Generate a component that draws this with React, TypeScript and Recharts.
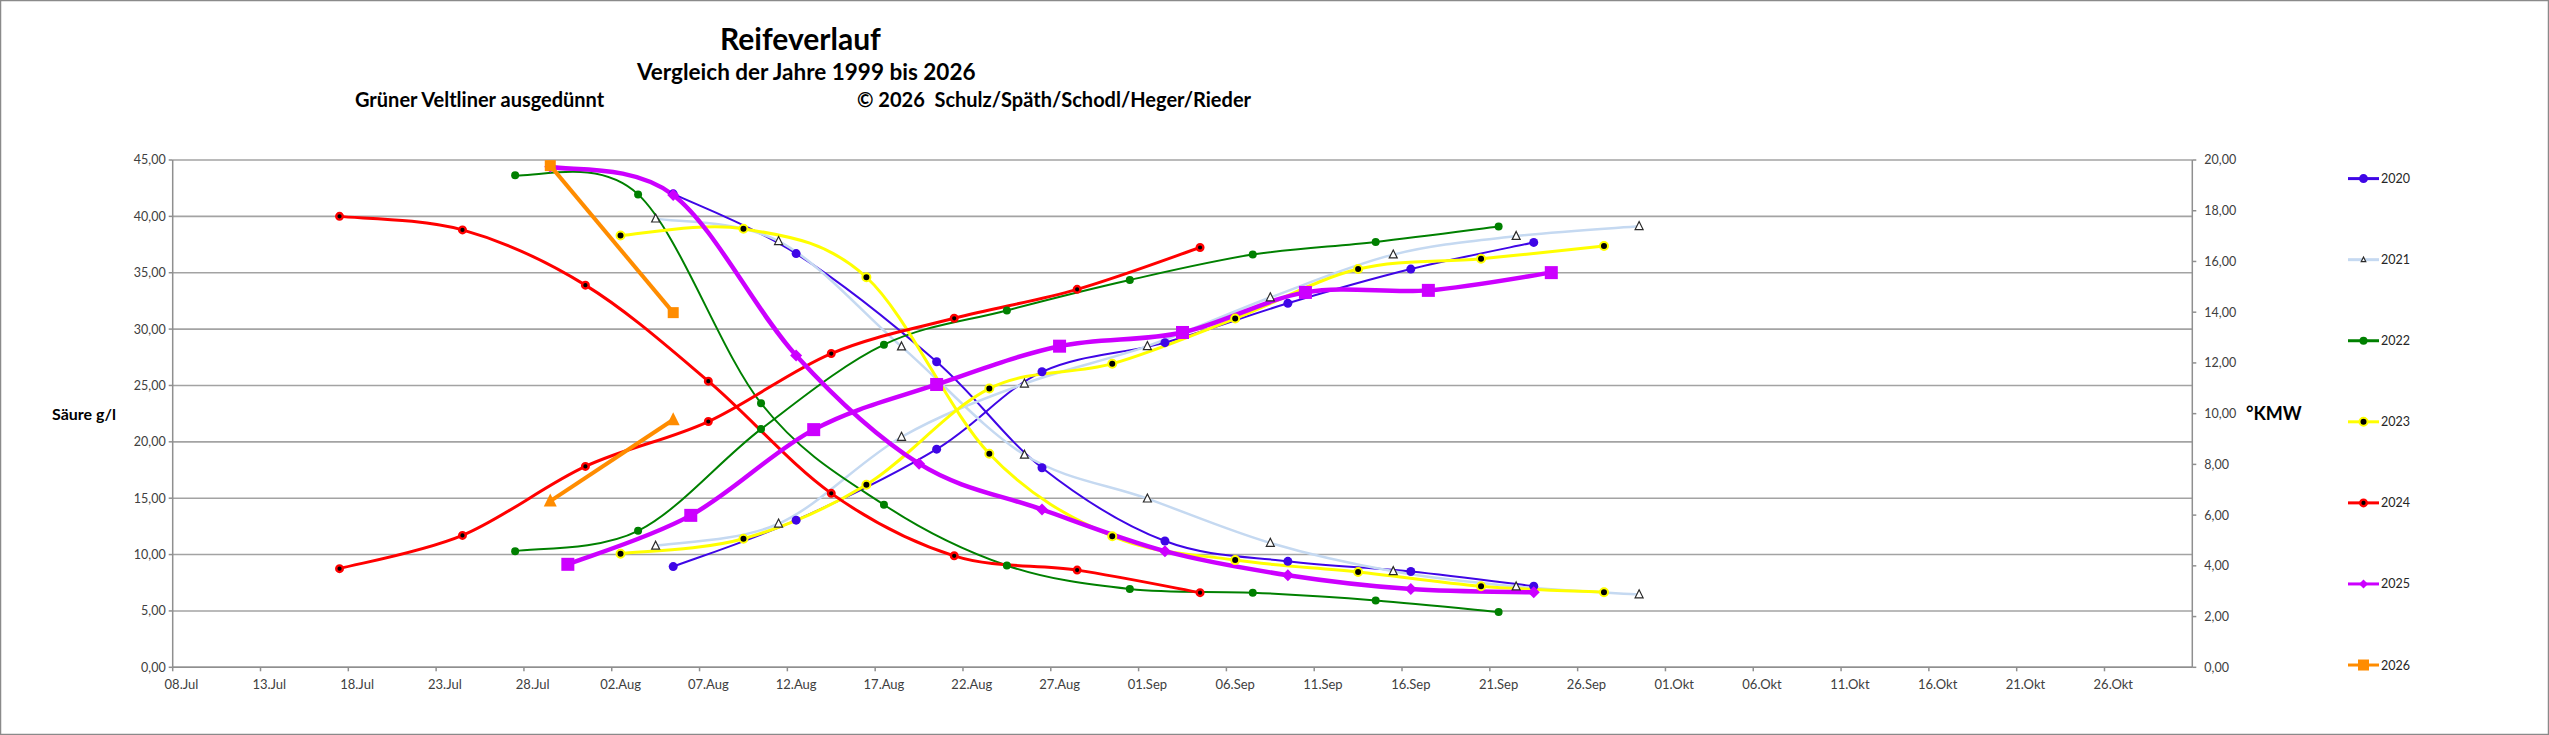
import { ComposedChart, Line, XAxis, YAxis, CartesianGrid } from "recharts";

const W = 2549;
const H = 735;
const FONT = "Lato, 'Open Sans', sans-serif";
const AXIS_GREY = "#8f8f8f";
const TEXT_GREY = "#404040";

// x axis: days counted from 08.Jul, ticks every 5 days, axis ends 31.Okt
const X_DOMAIN_DAYS = 115;
const xTicks = [0, 5, 10, 15, 20, 25, 30, 35, 40, 45, 50, 55, 60, 65, 70, 75, 80, 85, 90, 95, 100, 105, 110];
const leftTicks = [0, 5, 10, 15, 20, 25, 30, 35, 40, 45];
const rightTicks = [0, 2, 4, 6, 8, 10, 12, 14, 16, 18, 20];
const monthNames: Record<number, string> = { 6: "Jul", 7: "Aug", 8: "Sep", 9: "Okt" };

// 2020
const dates2020 = ["05.08", "12.08", "20.08", "26.08", "02.09", "09.09", "16.09", "23.09"];
const acid2020 = [42.0, 36.7, 27.1, 17.7, 11.2, 9.4, 8.5, 7.2];
const kmw2020 = [3.97, 5.8, 8.6, 11.65, 12.8, 14.35, 15.7, 16.75];

// 2021
const dates2021 = ["04.08", "11.08", "18.08", "25.08", "01.09", "08.09", "15.09", "22.09", "29.09"];
const acid2021 = [39.8, 37.8, 28.45, 18.85, 14.96, 11.03, 8.52, 7.16, 6.46];
const kmw2021 = [4.79, 5.66, 9.08, 11.18, 12.66, 14.58, 16.27, 17.0, 17.39];

// 2022
const dates2022 = ["27.07", "03.08", "10.08", "17.08", "24.08", "31.08", "07.09", "14.09", "21.09"];
const acid2022 = [43.65, 41.95, 23.42, 14.42, 9.03, 6.94, 6.62, 5.93, 4.91];
const kmw2022 = [4.58, 5.38, 9.39, 12.72, 14.07, 15.27, 16.27, 16.77, 17.38];

// 2023
const dates2023 = ["02.08", "09.08", "16.08", "23.08", "30.08", "06.09", "13.09", "20.09", "27.09"];
const acid2023 = [38.3, 38.9, 34.6, 18.95, 11.63, 9.51, 8.46, 7.19, 6.65];
const kmw2023 = [4.48, 5.07, 7.2, 10.99, 11.97, 13.75, 15.7, 16.11, 16.61];

// 2024
const dates2024 = ["17.07", "24.07", "31.07", "07.08", "14.08", "21.08", "28.08", "04.09"];
const acid2024 = [40.0, 38.8, 33.9, 25.38, 15.43, 9.89, 8.62, 6.62];
const kmw2024 = [3.89, 5.2, 7.92, 9.69, 12.37, 13.76, 14.9, 16.55];

// 2025 (acid and sugar were sampled a day apart)
const acidDates2025 = ["29.07", "05.08", "12.08", "19.08", "26.08", "02.09", "09.09", "16.09", "23.09"];
const acid2025 = [44.4, 41.9, 27.66, 18.06, 14.0, 10.3, 8.17, 6.94, 6.65];
const kmwDates2025 = ["30.07", "06.08", "13.08", "20.08", "27.08", "03.09", "10.09", "17.09", "24.09"];
const kmw2025 = [4.06, 5.99, 9.37, 11.15, 12.66, 13.2, 14.78, 14.86, 15.56];

// 2026
const dates2026 = ["29.07", "05.08"];
const acid2026 = [44.5, 31.46];
const kmw2026 = [6.55, 9.76];

const years = ["2020", "2021", "2022", "2023", "2024", "2025", "2026"];

const START = Date.UTC(2001, 6, 8);
const DAY = 86400000;

function dayOf(s: string) {
  const [d, m] = s.split(".").map(Number);
  return (Date.UTC(2001, m - 1, d) - START) / DAY;
}

function dateLabel(n: number) {
  const dt = new Date(START + n * DAY);
  return String(dt.getUTCDate()).padStart(2, "0") + "." + monthNames[dt.getUTCMonth()];
}

// points sit in the middle of their day slot, like Excel's date axis
const toSeries = (dates: string[], values: number[]) =>
  dates.map((s, i) => ({ x: dayOf(s) + 0.5, y: values[i] }));

const fmt = (v: number) => v.toFixed(2).replace(".", ",");

// Excel-like smoothed line (Catmull-Rom bezier)
const excelSmooth = (context: any) => {
  let pts: number[][] = [];
  return {
    areaStart() {},
    areaEnd() {},
    lineStart() {
      pts = [];
    },
    point(x: number, y: number) {
      pts.push([+x, +y]);
    },
    lineEnd() {
      const n = pts.length;
      if (!n) return;
      context.moveTo(pts[0][0], pts[0][1]);
      for (let i = 0; i < n - 1; i++) {
        const p0 = pts[Math.max(i - 1, 0)];
        const p1 = pts[i];
        const p2 = pts[i + 1];
        const p3 = pts[Math.min(i + 2, n - 1)];
        context.bezierCurveTo(
          p1[0] + (p2[0] - p0[0]) / 6,
          p1[1] + (p2[1] - p0[1]) / 6,
          p2[0] - (p3[0] - p1[0]) / 6,
          p2[1] - (p3[1] - p1[1]) / 6,
          p2[0],
          p2[1]
        );
      }
    },
  };
};

type Marker = { kind: string; size: number; fill: string; stroke?: string; sw?: number };

const STYLE: Record<string, { color: string; width: number; acid: Marker; kmw: Marker; smooth: boolean }> = {
  "2020": { color: "#3f06e6", width: 2, smooth: true, acid: { kind: "circle", size: 4.5, fill: "#3f06e6" }, kmw: { kind: "circle", size: 4.5, fill: "#3f06e6" } },
  "2021": { color: "#c5d9f1", width: 2.5, smooth: true, acid: { kind: "tri", size: 8, fill: "#ffffff", stroke: "#2a2a2a", sw: 1.2 }, kmw: { kind: "tri", size: 8, fill: "#ffffff", stroke: "#2a2a2a", sw: 1.2 } },
  "2022": { color: "#008000", width: 2, smooth: true, acid: { kind: "circle", size: 4, fill: "#008000" }, kmw: { kind: "circle", size: 4, fill: "#008000" } },
  "2023": { color: "#ffff00", width: 3, smooth: true, acid: { kind: "circle", size: 4, fill: "#000000", stroke: "#ffff00", sw: 2 }, kmw: { kind: "circle", size: 4, fill: "#000000", stroke: "#ffff00", sw: 2 } },
  "2024": { color: "#ff0000", width: 3, smooth: true, acid: { kind: "circle", size: 3.3, fill: "#000000", stroke: "#ff0000", sw: 2.4 }, kmw: { kind: "circle", size: 3.3, fill: "#000000", stroke: "#ff0000", sw: 2.4 } },
  "2025": { color: "#cc00ff", width: 4.5, smooth: true, acid: { kind: "diamond", size: 12, fill: "#cc00ff" }, kmw: { kind: "square", size: 13, fill: "#cc00ff" } },
  "2026": { color: "#ff8c00", width: 4, smooth: false, acid: { kind: "square", size: 11, fill: "#ff8c00" }, kmw: { kind: "triFill", size: 13, fill: "#ff8c00" } },
};

function drawMarker(m: Marker, cx: number, cy: number, key: string) {
  const s = m.size;
  if (m.kind === "circle") {
    return <circle key={key} cx={cx} cy={cy} r={s} fill={m.fill} stroke={m.stroke || "none"} strokeWidth={m.sw || 0} />;
  }
  if (m.kind === "tri" || m.kind === "triFill") {
    const d = `M${cx},${cy - s * 0.58}L${cx + s / 2},${cy + s * 0.42}L${cx - s / 2},${cy + s * 0.42}Z`;
    return <path key={key} d={d} fill={m.fill} stroke={m.stroke || "none"} strokeWidth={m.sw || 0} />;
  }
  if (m.kind === "diamond") {
    const d = `M${cx},${cy - s / 2}L${cx + s / 2},${cy}L${cx},${cy + s / 2}L${cx - s / 2},${cy}Z`;
    return <path key={key} d={d} fill={m.fill} />;
  }
  return <rect key={key} x={cx - s / 2} y={cy - s / 2} width={s} height={s} fill={m.fill} />;
}

const dotFor = (m: Marker, id: string) => (p: any) => {
  const key = `${id}-${p.index}`;
  if (p.cx == null || p.cy == null) return <g key={key} />;
  return drawMarker(m, p.cx, p.cy, key);
};

const SERIES = [
  { year: "2020", axis: "left", part: "acid", data: toSeries(dates2020, acid2020) },
  { year: "2020", axis: "right", part: "kmw", data: toSeries(dates2020, kmw2020) },
  { year: "2021", axis: "left", part: "acid", data: toSeries(dates2021, acid2021) },
  { year: "2021", axis: "right", part: "kmw", data: toSeries(dates2021, kmw2021) },
  { year: "2022", axis: "left", part: "acid", data: toSeries(dates2022, acid2022) },
  { year: "2022", axis: "right", part: "kmw", data: toSeries(dates2022, kmw2022) },
  { year: "2023", axis: "left", part: "acid", data: toSeries(dates2023, acid2023) },
  { year: "2023", axis: "right", part: "kmw", data: toSeries(dates2023, kmw2023) },
  { year: "2024", axis: "left", part: "acid", data: toSeries(dates2024, acid2024) },
  { year: "2024", axis: "right", part: "kmw", data: toSeries(dates2024, kmw2024) },
  { year: "2025", axis: "left", part: "acid", data: toSeries(acidDates2025, acid2025) },
  { year: "2025", axis: "right", part: "kmw", data: toSeries(kmwDates2025, kmw2025) },
  { year: "2026", axis: "left", part: "acid", data: toSeries(dates2026, acid2026) },
  { year: "2026", axis: "right", part: "kmw", data: toSeries(dates2026, kmw2026) },
];

// plot box
const PLOT_LEFT = 172.7;
const PLOT_RIGHT = 2192.3;
const PLOT_TOP = 160;
const PLOT_BOTTOM = 667.3;
const HALF_DAY = (PLOT_RIGHT - PLOT_LEFT) / X_DOMAIN_DAYS / 2;

const DateTick = (props: any) => {
  const { x, y, payload } = props;
  return (
    <text x={x + HALF_DAY} y={y} dy="0.71em" textAnchor="middle" fontSize={13} fill={TEXT_GREY} fontFamily={FONT}>
      {dateLabel(payload.value)}
    </text>
  );
};

const legendMarker = (year: string, cx: number, cy: number) => {
  const st = STYLE[year];
  const m = year === "2025" ? { ...st.acid, size: 9 } : year === "2026" ? st.acid : { ...st.acid, size: Math.min(st.acid.size, 4.5) };
  return drawMarker(m, cx, cy, "m" + year);
};

export default function App() {
  return (
    <div style={{ position: "absolute", left: 0, top: 0, width: W, height: H, background: "#fff", fontFamily: FONT }}>
      <ComposedChart
        width={W}
        height={H}
        margin={{ top: PLOT_TOP, right: W - PLOT_RIGHT - 60, bottom: H - PLOT_BOTTOM - 30, left: PLOT_LEFT - 60 }}
      >
        <CartesianGrid yAxisId="left" vertical={false} stroke="#a3a3a3" strokeWidth={1.6} />
        <XAxis
          dataKey="x"
          type="number"
          domain={[0, X_DOMAIN_DAYS]}
          ticks={xTicks}
          allowDataOverflow
          height={30}
          tickSize={4}
          tickMargin={8}
          axisLine={{ stroke: AXIS_GREY, strokeWidth: 1.5 }}
          tickLine={{ stroke: AXIS_GREY, strokeWidth: 1.5 }}
          tick={(p: any) => <DateTick {...p} />}
        />
        <YAxis
          yAxisId="left"
          orientation="left"
          domain={[0, 45]}
          ticks={leftTicks}
          width={60}
          tickSize={4}
          tickMargin={3}
          allowDataOverflow
          axisLine={{ stroke: AXIS_GREY, strokeWidth: 1.5 }}
          tickLine={{ stroke: AXIS_GREY, strokeWidth: 1.5 }}
          tickFormatter={fmt}
          tick={{ fontSize: 12.5, fill: TEXT_GREY, fontFamily: FONT }}
        />
        <YAxis
          yAxisId="right"
          orientation="right"
          domain={[0, 20]}
          ticks={rightTicks}
          width={60}
          tickSize={4}
          tickMargin={8}
          allowDataOverflow
          axisLine={{ stroke: AXIS_GREY, strokeWidth: 1.5 }}
          tickLine={{ stroke: AXIS_GREY, strokeWidth: 1.5 }}
          tickFormatter={fmt}
          tick={{ fontSize: 12.5, fill: TEXT_GREY, fontFamily: FONT }}
        />
        {SERIES.map((s) => {
          const st = STYLE[s.year];
          const m = s.part === "acid" ? st.acid : st.kmw;
          const id = `${s.year}-${s.part}`;
          return (
            <Line
              key={id}
              data={s.data}
              dataKey="y"
              yAxisId={s.axis}
              type={st.smooth ? (excelSmooth as any) : "linear"}
              stroke={st.color}
              strokeWidth={st.width}
              dot={dotFor(m, id)}
              activeDot={false}
              isAnimationActive={false}
              name={s.year}
            />
          );
        })}
      </ComposedChart>

      <svg width={W} height={H} style={{ position: "absolute", left: 0, top: 0, pointerEvents: "none" }}>
        <rect x={0.5} y={0.5} width={W - 1} height={H - 1} fill="none" stroke="#8a8a8a" strokeWidth={1.5} />
        <g fontFamily={FONT} fontWeight="bold" fill="#000">
          <text x={720} y={50} fontSize={30}>Reifeverlauf</text>
          <text x={637} y={80} fontSize={22.5}>Vergleich der Jahre 1999 bis 2026</text>
          <text x={355} y={107} fontSize={20}>Grüner Veltliner ausgedünnt</text>
          <text x={857} y={107} fontSize={20} style={{ whiteSpace: "pre" }}>{"© 2026  Schulz/Späth/Schodl/Heger/Rieder"}</text>
          <text x={52} y={420} fontSize={16}>Säure g/l</text>
          <text x={2246} y={420} fontSize={18}>°KMW</text>
        </g>
        {years.map((y, i) => {
          const cy = 178.6 + i * 81.07;
          const st = STYLE[y];
          return (
            <g key={y}>
              <line x1={2348} x2={2379} y1={cy} y2={cy} stroke={st.color} strokeWidth={3} />
              {legendMarker(y, 2363.5, cy)}
              <text x={2381} y={cy + 4.5} fontSize={12.5} fill="#262626" fontFamily={FONT}>{y}</text>
            </g>
          );
        })}
      </svg>
    </div>
  );
}
